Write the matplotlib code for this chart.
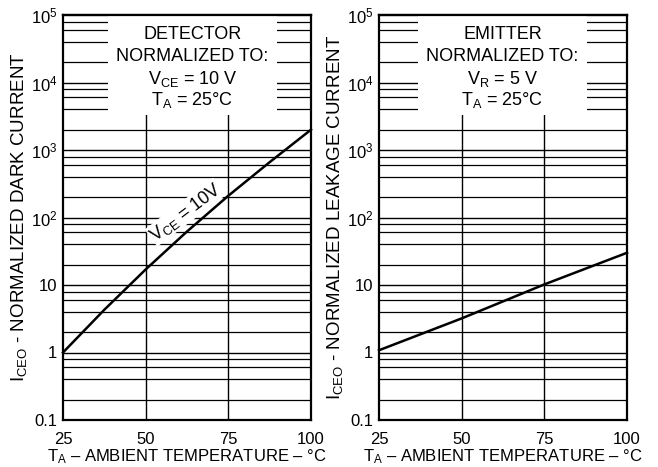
import matplotlib
matplotlib.use("Agg")
import matplotlib.pyplot as plt
import numpy as np
from matplotlib.patches import Rectangle

plt.rcParams['font.family'] = ['Liberation Sans', 'DejaVu Sans']
plt.rcParams['mathtext.fontset'] = 'custom'
plt.rcParams['mathtext.rm'] = 'Liberation Sans'
plt.rcParams['mathtext.it'] = 'Liberation Sans'
plt.rcParams['mathtext.bf'] = 'Liberation Sans'

# Data
temp_det = [25, 37.5, 50, 62.5, 75, 87.5, 100]
dark_current = [1.0, 4.3, 17.0, 62.0, 210.0, 660.0, 2000.0]
temp_emit = [25, 50, 75, 100]
leak_current = [1.08, 3.2, 10.2, 30.0]

x_ticks = [25, 50, 75, 100]
x_ticklabels = ['25', '50', '75', '100']
y_ticks = [0.1, 1, 10, 1e2, 1e3, 1e4, 1e5]
y_ticklabels = ['0.1', '1', '10', '10$^{2}$', '10$^{3}$', '10$^{4}$', '10$^{5}$']
grid_x = [50, 75]

fig = plt.figure(figsize=(6.58, 4.67), dpi=100)
ax1 = fig.add_axes([63/658, 47/467, 248/658, 405/467])
ax2 = fig.add_axes([379/658, 47/467, 248/658, 405/467])

minor_vals = []
for d in range(-1, 5):
    for m in [2, 4, 6, 8]:
        minor_vals.append(m * 10.0**d)

def style(ax, box_x0, box_x1, ylabel, lines):
    ax.set_yscale('log')
    ax.set_xlim(25, 100)
    ax.set_ylim(0.1, 1e5)
    ax.set_xticks(x_ticks)
    ax.set_xticklabels(x_ticklabels)
    ax.set_yticks(y_ticks)
    ax.set_yticklabels(y_ticklabels)
    ax.yaxis.set_minor_locator(matplotlib.ticker.NullLocator())
    ax.tick_params(axis='both', length=0, labelsize=12)
    ax.tick_params(axis='x', pad=9)
    ax.tick_params(axis='y', pad=4)
    for v in y_ticks[1:-1]:
        ax.axhline(v, color='black', lw=1.0, zorder=1)
    for v in minor_vals:
        ax.axhline(v, color='black', lw=0.9, zorder=1)
    for v in grid_x:
        ax.axvline(v, color='black', lw=1.0, zorder=1)
    ax.add_patch(Rectangle((box_x0, 0.753), box_x1 - box_x0, 0.247,
                           transform=ax.transAxes, facecolor='white',
                           edgecolor='none', zorder=2))
    top = ax.secondary_xaxis('top')
    top.set_xticks(grid_x)
    top.set_xticklabels([])
    top.tick_params(direction='in', length=4, width=0.9)
    top.spines['top'].set_linewidth(1.6)
    cx = (box_x0 + box_x1) / 2
    ys = [0.952, 0.898, 0.842, 0.790]
    for t, yy in zip(lines, ys):
        ax.text(cx, yy, t, transform=ax.transAxes, ha='center', va='center',
                fontsize=13, zorder=3)
    for s in ax.spines.values():
        s.set_linewidth(1.6)
        s.set_zorder(5)
    ax.set_ylabel(ylabel, fontsize=13.5, labelpad=1)
    ax.set_xlabel('T$_{\\mathrm{A}}$ – AMBIENT TEMPERATURE – °C', fontsize=12, labelpad=0)

style(ax1, 0.18, 0.863, 'I$_{\\mathrm{CEO}}$ - NORMALIZED DARK CURRENT',
      ['DETECTOR', 'NORMALIZED TO:', 'V$_{\\mathrm{CE}}$ = 10 V', 'T$_{\\mathrm{A}}$ = 25°C'])
style(ax2, 0.157, 0.839, 'I$_{\\mathrm{CEO}}$ - NORMALIZED LEAKAGE CURRENT',
      ['EMITTER', 'NORMALIZED TO:', 'V$_{\\mathrm{R}}$ = 5 V', 'T$_{\\mathrm{A}}$ = 25°C'])

ax1.plot(temp_det, dark_current, color='black', lw=1.8, zorder=4, clip_on=False)
ax2.plot(temp_emit, leak_current, color='black', lw=1.8, zorder=4, clip_on=False)

ax1.text(62.0, 120, 'V$_{\\mathrm{CE}}$ = 10V', rotation=37, ha='center', va='center',
         fontsize=13, zorder=3, rotation_mode='anchor',
         bbox=dict(facecolor='white', edgecolor='none', pad=0.5))

fig.savefig('out.png', dpi=100)
